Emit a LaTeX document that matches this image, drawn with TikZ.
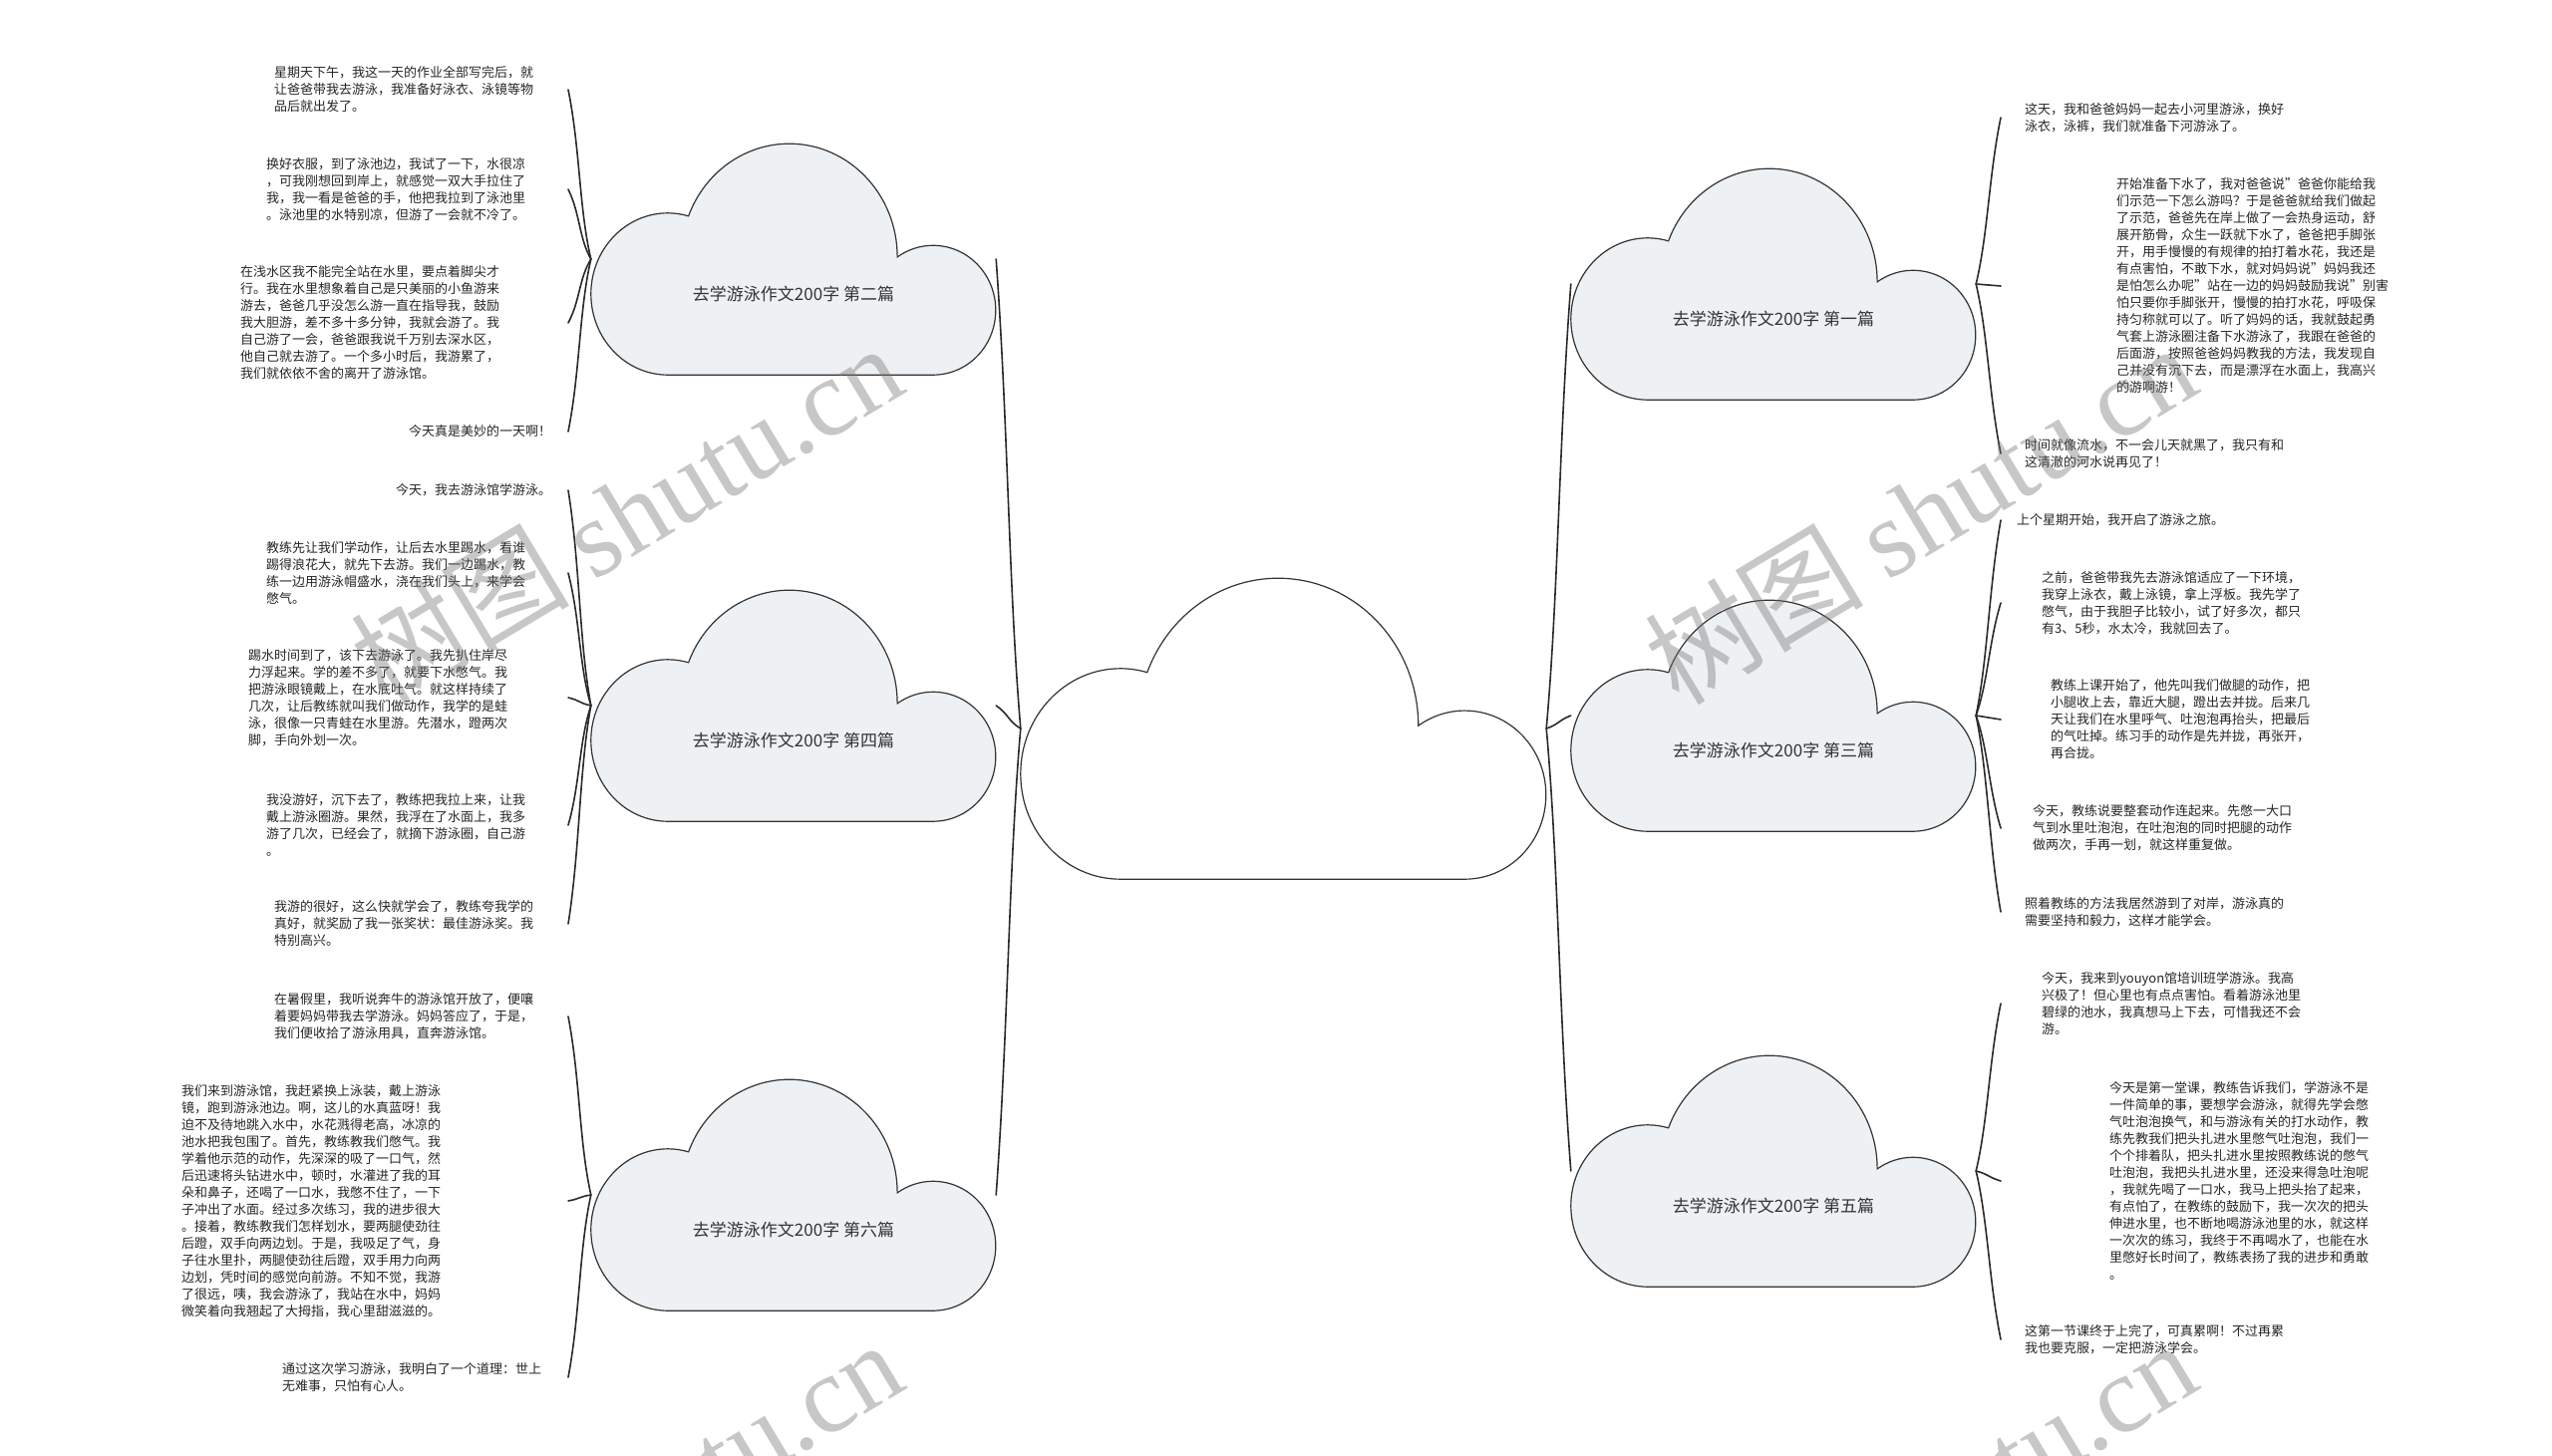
\documentclass[tikz,border=0pt]{standalone}
\usepackage{fontspec}
\setmainfont{Noto Sans CJK SC}
\newfontfamily\wmserif{Liberation Serif}
\usetikzlibrary{calc}
\definecolor{cloudfill}{HTML}{EEF1F4}
\definecolor{ink}{HTML}{333333}
\definecolor{lineink}{HTML}{2A2A2A}
\newcommand\cloudpath{(0.19,0) -- (0.845,0) .. controls (0.931,0) and (1,0.125) .. (1,0.28) .. controls (1,0.435) and (0.931,0.56) .. (0.845,0.56) .. controls (0.8136,0.56) and (0.7829,0.5422) .. (0.757,0.51) .. controls (0.757,0.7806) and (0.6375,1) .. (0.49,1) .. controls (0.3797,1) and (0.2807,0.8758) .. (0.241,0.687) .. controls (0.2244,0.6956) and (0.2073,0.70) .. (0.19,0.70) .. controls (0.0851,0.70) and (0,0.5433) .. (0,0.35) .. controls (0,0.1567) and (0.0851,0) .. (0.19,0) -- cycle}
\newcommand\mycloud[4]{\begin{scope}[shift={(#1.south west)},xscale=#2,yscale=#3]\filldraw[#4] \cloudpath;\end{scope}}
\newcommand\tzlink[4]{\draw[conn] let \p1=(#1), \p2=(#2), \n1={\y2-(\y1)} in (\p1) .. controls ($(\p1)+(#3,0.3*\n1)$) and ($(\p2)+(#4,-0.35*\n1)$) .. (\p2);}
\begin{document}
\begin{tikzpicture}[x=1pt,y=1pt,
  conn/.style={draw=lineink, line width=1.6pt, line cap=round},
  cbox/.style={rectangle, inner sep=0pt, minimum width=406pt, minimum height=232pt},
  rootcloud/.style={fill=white, draw=ink, line width=1.2pt},
  childcloud/.style={fill=cloudfill, draw=ink, line width=1.2pt},
  lab/.style={inner sep=0pt, text=ink, font=\fontsize{17pt}{20pt}\selectfont},
  leaf/.style={anchor=west, align=left, inner sep=0pt, text=black!85, font=\fontsize{13pt}{17pt}\selectfont},
  wm/.style={inner sep=0pt, text=black!55, text opacity=0.4, font=\fontsize{110pt}{110pt}\selectfont}]
\fill[white] (0,0) rectangle (2560,-1461);
\useasboundingbox (0,0) rectangle (2560,-1461);
\coordinate (lxL) at (570,0);
\coordinate (lxR) at (2007,0);

% cloud boxes
\node[rectangle, inner sep=0pt, minimum width=527pt, minimum height=302pt] (root) at (1287.5,-731) {};
\node[cbox] (c2) at (796,-260) {};
\node[cbox] (c4) at (796,-708) {};
\node[cbox] (c6) at (796,-1199) {};
\node[cbox] (c1) at (1779,-285) {};
\node[cbox] (c3) at (1779,-718) {};
\node[cbox] (c5) at (1779,-1175) {};

\mycloud{root}{527}{302}{rootcloud}
\mycloud{c2}{406}{232}{childcloud}
\mycloud{c4}{406}{232}{childcloud}
\mycloud{c6}{406}{232}{childcloud}
\mycloud{c1}{406}{232}{childcloud}
\mycloud{c3}{406}{232}{childcloud}
\mycloud{c5}{406}{232}{childcloud}

\node[lab] (t2) at ([yshift=-35pt]c2.center) {去学游泳作文200字 第二篇};
\node[lab] (t4) at ([yshift=-35pt]c4.center) {去学游泳作文200字 第四篇};
\node[lab] (t6) at ([yshift=-35pt]c6.center) {去学游泳作文200字 第六篇};
\node[lab] (t1) at ([yshift=-35pt]c1.center) {去学游泳作文200字 第一篇};
\node[lab] (t3) at ([yshift=-35pt]c3.center) {去学游泳作文200字 第三篇};
\node[lab] (t5) at ([yshift=-35pt]c5.center) {去学游泳作文200字 第五篇};

% left leaves
\node[leaf] (L21) at (275,-90) {星期天下午，我这一天的作业全部写完后，就\\让爸爸带我去游泳，我准备好泳衣、泳镜等物\\品后就出发了。};
\node[leaf] (L22) at (267,-190) {换好衣服，到了泳池边，我试了一下，水很凉\\，可我刚想回到岸上，就感觉一双大手拉住了\\我，我一看是爸爸的手，他把我拉到了泳池里\\。泳池里的水特别凉，但游了一会就不冷了。};
\node[leaf] (L23) at (241,-324) {在浅水区我不能完全站在水里，要点着脚尖才\\行。我在水里想象着自己是只美丽的小鱼游来\\游去，爸爸几乎没怎么游一直在指导我，鼓励\\我大胆游，差不多十多分钟，我就会游了。我\\自己游了一会，爸爸跟我说千万别去深水区，\\他自己就去游了。一个多小时后，我游累了，\\我们就依依不舍的离开了游泳馆。};
\node[leaf] (L24) at (410,-433) {今天真是美妙的一天啊！};

\node[leaf] (L41) at (397,-492) {今天，我去游泳馆学游泳。};
\node[leaf] (L42) at (267,-575) {教练先让我们学动作，让后去水里踢水，看谁\\踢得浪花大，就先下去游。我们一边踢水，教\\练一边用游泳帽盛水，浇在我们头上，来学会\\憋气。};
\node[leaf] (L43) at (249,-700) {踢水时间到了，该下去游泳了。我先扒住岸尽\\力浮起来。学的差不多了，就要下水憋气。我\\把游泳眼镜戴上，在水底吐气。就这样持续了\\几次，让后教练就叫我们做动作，我学的是蛙\\泳，很像一只青蛙在水里游。先潜水，蹬两次\\脚，手向外划一次。};
\node[leaf] (L44) at (267,-828) {我没游好，沉下去了，教练把我拉上来，让我\\戴上游泳圈游。果然，我浮在了水面上，我多\\游了几次，已经会了，就摘下游泳圈，自己游\\。};
\node[leaf] (L45) at (275,-927) {我游的很好，这么快就学会了，教练夸我学的\\真好，就奖励了我一张奖状：最佳游泳奖。我\\特别高兴。};

\node[leaf] (L61) at (275,-1020) {在暑假里，我听说奔牛的游泳馆开放了，便嚷\\着要妈妈带我去学游泳。妈妈答应了，于是，\\我们便收拾了游泳用具，直奔游泳馆。};
\node[leaf] (L62) at (182,-1205) {我们来到游泳馆，我赶紧换上泳装，戴上游泳\\镜，跑到游泳池边。啊，这儿的水真蓝呀！我\\迫不及待地跳入水中，水花溅得老高，冰凉的\\池水把我包围了。首先，教练教我们憋气。我\\学着他示范的动作，先深深的吸了一口气，然\\后迅速将头钻进水中，顿时，水灌进了我的耳\\朵和鼻子，还喝了一口水，我憋不住了，一下\\子冲出了水面。经过多次练习，我的进步很大\\。接着，教练教我们怎样划水，要两腿使劲往\\后蹬，双手向两边划。于是，我吸足了气，身\\子往水里扑，两腿使劲往后蹬，双手用力向两\\边划，凭时间的感觉向前游。不知不觉，我游\\了很远，咦，我会游泳了，我站在水中，妈妈\\微笑着向我翘起了大拇指，我心里甜滋滋的。};
\node[leaf] (L63) at (283,-1382) {通过这次学习游泳，我明白了一个道理：世上\\无难事，只怕有心人。};

% right leaves
\node[leaf] (R11) at (2031,-118) {这天，我和爸爸妈妈一起去小河里游泳，换好\\泳衣，泳裤，我们就准备下河游泳了。};
\node[leaf] (R12) at (2123,-287) {开始准备下水了，我对爸爸说"爸爸你能给我\\们示范一下怎么游吗？于是爸爸就给我们做起\\了示范，爸爸先在岸上做了一会热身运动，舒\\展开筋骨，众生一跃就下水了，爸爸把手脚张\\开，用手慢慢的有规律的拍打着水花，我还是\\有点害怕，不敢下水，就对妈妈说"妈妈我还\\是怕怎么办呢"站在一边的妈妈鼓励我说"别害\\怕只要你手脚张开，慢慢的拍打水花，呼吸保\\持匀称就可以了。听了妈妈的话，我就鼓起勇\\气套上游泳圈注备下水游泳了，我跟在爸爸的\\后面游，按照爸爸妈妈教我的方法，我发现自\\己并没有沉下去，而是漂浮在水面上，我高兴\\的游啊游！};
\node[leaf] (R13) at (2031,-455) {时间就像流水，不一会儿天就黑了，我只有和\\这清澈的河水说再见了！};

\node[leaf] (R31) at (2023,-522) {上个星期开始，我开启了游泳之旅。};
\node[leaf] (R32) at (2048,-605) {之前，爸爸带我先去游泳馆适应了一下环境，\\我穿上泳衣，戴上泳镜，拿上浮板。我先学了\\憋气，由于我胆子比较小，试了好多次，都只\\有3、5秒，水太冷，我就回去了。};
\node[leaf] (R33) at (2057,-722) {教练上课开始了，他先叫我们做腿的动作，把\\小腿收上去，靠近大腿，蹬出去并拢。后来几\\天让我们在水里呼气、吐泡泡再抬头，把最后\\的气吐掉。练习手的动作是先并拢，再张开，\\再合拢。};
\node[leaf] (R34) at (2039,-831) {今天，教练说要整套动作连起来。先憋一大口\\气到水里吐泡泡，在吐泡泡的同时把腿的动作\\做两次，手再一划，就这样重复做。};
\node[leaf] (R35) at (2031,-915) {照着教练的方法我居然游到了对岸，游泳真的\\需要坚持和毅力，这样才能学会。};

\node[leaf] (R51) at (2048,-1007) {今天，我来到youyon馆培训班学游泳。我高\\兴极了！但心里也有点点害怕。看着游泳池里\\碧绿的池水，我真想马上下去，可惜我还不会\\游。};
\node[leaf] (R52) at (2116,-1185) {今天是第一堂课，教练告诉我们，学游泳不是\\一件简单的事，要想学会游泳，就得先学会憋\\气吐泡泡换气，和与游泳有关的打水动作，教\\练先教我们把头扎进水里憋气吐泡泡，我们一\\个个排着队，把头扎进水里按照教练说的憋气\\吐泡泡，我把头扎进水里，还没来得急吐泡呢\\，我就先喝了一口水，我马上把头抬了起来，\\有点怕了，在教练的鼓励下，我一次次的把头\\伸进水里，也不断地喝游泳池里的水，就这样\\一次次的练习，我终于不再喝水了，也能在水\\里憋好长时间了，教练表扬了我的进步和勇敢\\。};
\node[leaf] (R53) at (2031,-1344) {这第一节课终于上完了，可真累啊！不过再累\\我也要克服，一定把游泳学会。};

% connectors root -> children
\tzlink{root.west}{c2.east}{-12}{12}
\tzlink{root.west}{c4.east}{-12}{12}
\tzlink{root.west}{c6.east}{-12}{12}
\tzlink{root.east}{c1.west}{12}{-12}
\tzlink{root.east}{c3.west}{12}{-12}
\tzlink{root.east}{c5.west}{12}{-12}

% connectors children -> leaves
\foreach \l in {L21,L22,L23,L24}{\tzlink{c2.west}{\l.east -| lxL}{-12}{12}}
\foreach \l in {L41,L42,L43,L44,L45}{\tzlink{c4.west}{\l.east -| lxL}{-12}{12}}
\foreach \l in {L61,L62,L63}{\tzlink{c6.west}{\l.east -| lxL}{-12}{12}}
\foreach \l in {R11,R12,R13}{\tzlink{c1.east}{\l.west -| lxR}{12}{-12}}
\foreach \l in {R31,R32,R33,R34,R35}{\tzlink{c3.east}{\l.west -| lxR}{12}{-12}}
\foreach \l in {R51,R52,R53}{\tzlink{c5.east}{\l.west -| lxR}{12}{-12}}

% watermark
\begin{scope}
\clip (0,0) rectangle (2560,-1461);
\node[wm, rotate=31] (wm1) at (628,-515) {树图 {\wmserif shutu.cn}};
\node[wm, rotate=31] (wm2) at (1926,-515) {树图 {\wmserif shutu.cn}};
\node[wm, rotate=31] (wm3) at (628,-1515) {树图 {\wmserif shutu.cn}};
\node[wm, rotate=31] (wm4) at (1926,-1515) {树图 {\wmserif shutu.cn}};
\end{scope}
\end{tikzpicture}
\end{document}
